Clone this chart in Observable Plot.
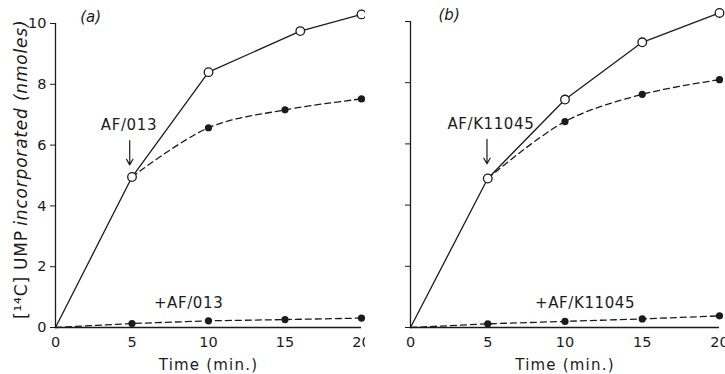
<!DOCTYPE html>
<html>
<head>
<meta charset="utf-8">
<script src="https://cdn.jsdelivr.net/npm/d3@7"></script>
<script src="https://cdn.jsdelivr.net/npm/@observablehq/plot@0.6"></script>
<style>
  html, body { margin: 0; padding: 0; background: #fff; }
  #wrap { display: flex; width: 725px; height: 374px; overflow: hidden; }
</style>
</head>
<body>
<div id="wrap"></div>
<script>
// ---- Data ----
const xTicks = [0, 5, 10, 15, 20];
const yTicks = [0, 2, 4, 6, 8, 10];

// Panel (a)
const ctrlTimeA = [0, 5, 10, 16, 20];
const ctrlA     = [0, 4.95, 8.4, 9.75, 10.3];
const afterTimeA = [5, 10, 15, 20];
const afterA     = [4.95, 6.57, 7.16, 7.52];
const preTimeA = [0, 5, 10, 15, 20];
const preA     = [0, 0.13, 0.22, 0.26, 0.31];

// Panel (b)
const ctrlTimeB = [0, 5, 10, 15, 20];
const ctrlB     = [0, 4.87, 7.45, 9.32, 10.28];
const afterTimeB = [5, 10, 15, 20];
const afterB     = [4.87, 6.73, 7.62, 8.1];
const preTimeB = [0, 5, 10, 15, 20];
const preB     = [0, 0.12, 0.2, 0.28, 0.38];

// Text
const panelLabels = ["(a)", "(b)"];
const addLabels = ["AF/013", "AF/K11045"];
const preLabels = ["+AF/013", "+AF/K11045"];
const xLabel = "Time (min.)";
const yLabelParts = ["[¹⁴C] UMP", "incorporated (nmoles)"];

const ink = "#1b1b1b";
const font = "'DejaVu Sans', sans-serif";

function rows(t, v) { return t.map((x, i) => ({x, y: v[i]})); }

function panel(cfg) {
  const ctrl = rows(cfg.ctrlT, cfg.ctrl);
  const after = rows(cfg.afterT, cfg.after);
  const pre = rows(cfg.preT, cfg.pre);
  const marks = [
    Plot.axisX({ticks: xTicks, tickSize: 0, tickPadding: 9, fontSize: 14.5, label: null}),
    Plot.axisY({ticks: yTicks, tickSize: 5, tickPadding: 4, fontSize: 14.5,
      tickFormat: cfg.showY ? (d => d) : (() => ""), label: null}),
    Plot.text([xLabel], {frameAnchor: "bottom", dy: 42, text: d => d, fontSize: 15, fill: ink}),
    Plot.ruleX([0], {stroke: ink, strokeWidth: 1.3}),
    Plot.ruleY([0], {stroke: ink, strokeWidth: 1.3}),
    Plot.line(ctrl, {x: "x", y: "y", stroke: ink, strokeWidth: 1.3}),
    Plot.line(after, {x: "x", y: "y", stroke: ink, strokeWidth: 1.3, strokeDasharray: "6,4", curve: "catmull-rom"}),
    Plot.line(pre, {x: "x", y: "y", stroke: ink, strokeWidth: 1.3, strokeDasharray: "6,4"}),
    Plot.dot(after, {x: "x", y: "y", r: 3.6, fill: ink, stroke: "none"}),
    Plot.dot(pre.slice(1), {x: "x", y: "y", r: 3.6, fill: ink, stroke: "none"}),
    Plot.dot(ctrl.slice(1), {x: "x", y: "y", r: 4.3, fill: "#fff", stroke: ink, strokeWidth: 1.3}),
    Plot.text([cfg.panelLabel], {x: cfg.panelX, y: 10.2, text: d => d, fontSize: 15, fontStyle: "italic", fill: ink}),
    Plot.text([cfg.addLabel], {x: cfg.addX, y: 6.64, text: d => d, fontSize: 15, fill: ink}),
    Plot.arrow([0], {x1: cfg.arrowX, x2: cfg.arrowX, y1: 6.15, y2: 5.35, stroke: ink, strokeWidth: 1.2, headLength: 8}),
    Plot.text([cfg.preLabel], {x: cfg.preX, y: 0.79, text: d => d, fontSize: 15, fill: ink})
  ];
  if (cfg.showY) {
    // y-axis title: upright "[14C] UMP", italic rest, rotated, meeting at a split point
    marks.push(Plot.text([yLabelParts[0]], {x: 0, y: 3.2, dx: -34, rotate: -90, textAnchor: "end",
      text: d => d, fontSize: 17, fill: ink}));
    marks.push(Plot.text([yLabelParts[1]], {x: 0, y: 3.35, dx: -34, rotate: -90, textAnchor: "start",
      text: d => d, fontSize: 17, fontStyle: "italic", fill: ink}));
  }
  const svg = Plot.plot({
    width: cfg.width,
    height: 374,
    marginLeft: cfg.marginLeft,
    marginRight: cfg.marginRight,
    marginTop: cfg.marginTop,
    marginBottom: 374 - 327,
    style: {fontFamily: font, fontSize: "14px", color: ink, background: "#fff", overflow: "visible"},
    x: {domain: [0, 20]},
    y: {domain: [0, 10]},
    marks
  });
  // letter spacing, as in the hand-lettered original
  d3.select(svg).selectAll("text").each(function() {
    const t = this.textContent;
    if (t === xLabel) this.setAttribute("letter-spacing", "1.2");
    if (yLabelParts.includes(t)) this.setAttribute("letter-spacing", "0.8");
    if (addLabels.includes(t) || preLabels.includes(t)) this.setAttribute("letter-spacing", "0.6");
  });
  return svg;
}

const a = panel({
  width: 365, marginLeft: 55, marginRight: 4, marginTop: 23, showY: true,
  ctrlT: ctrlTimeA, ctrl: ctrlA, afterT: afterTimeA, after: afterA, preT: preTimeA, pre: preA,
  panelLabel: panelLabels[0], panelX: 2.3, addLabel: addLabels[0], addX: 4.8, arrowX: 4.85,
  preLabel: preLabels[0], preX: 8.7
});
const b = panel({
  width: 360, marginLeft: 45, marginRight: 6, marginTop: 21, showY: false,
  ctrlT: ctrlTimeB, ctrl: ctrlB, afterT: afterTimeB, after: afterB, preT: preTimeB, pre: preB,
  panelLabel: panelLabels[1], panelX: 2.5, addLabel: addLabels[1], addX: 5.2, arrowX: 4.95,
  preLabel: preLabels[1], preX: 11.3
});
document.getElementById("wrap").append(a, b);
</script>
</body>
</html>
